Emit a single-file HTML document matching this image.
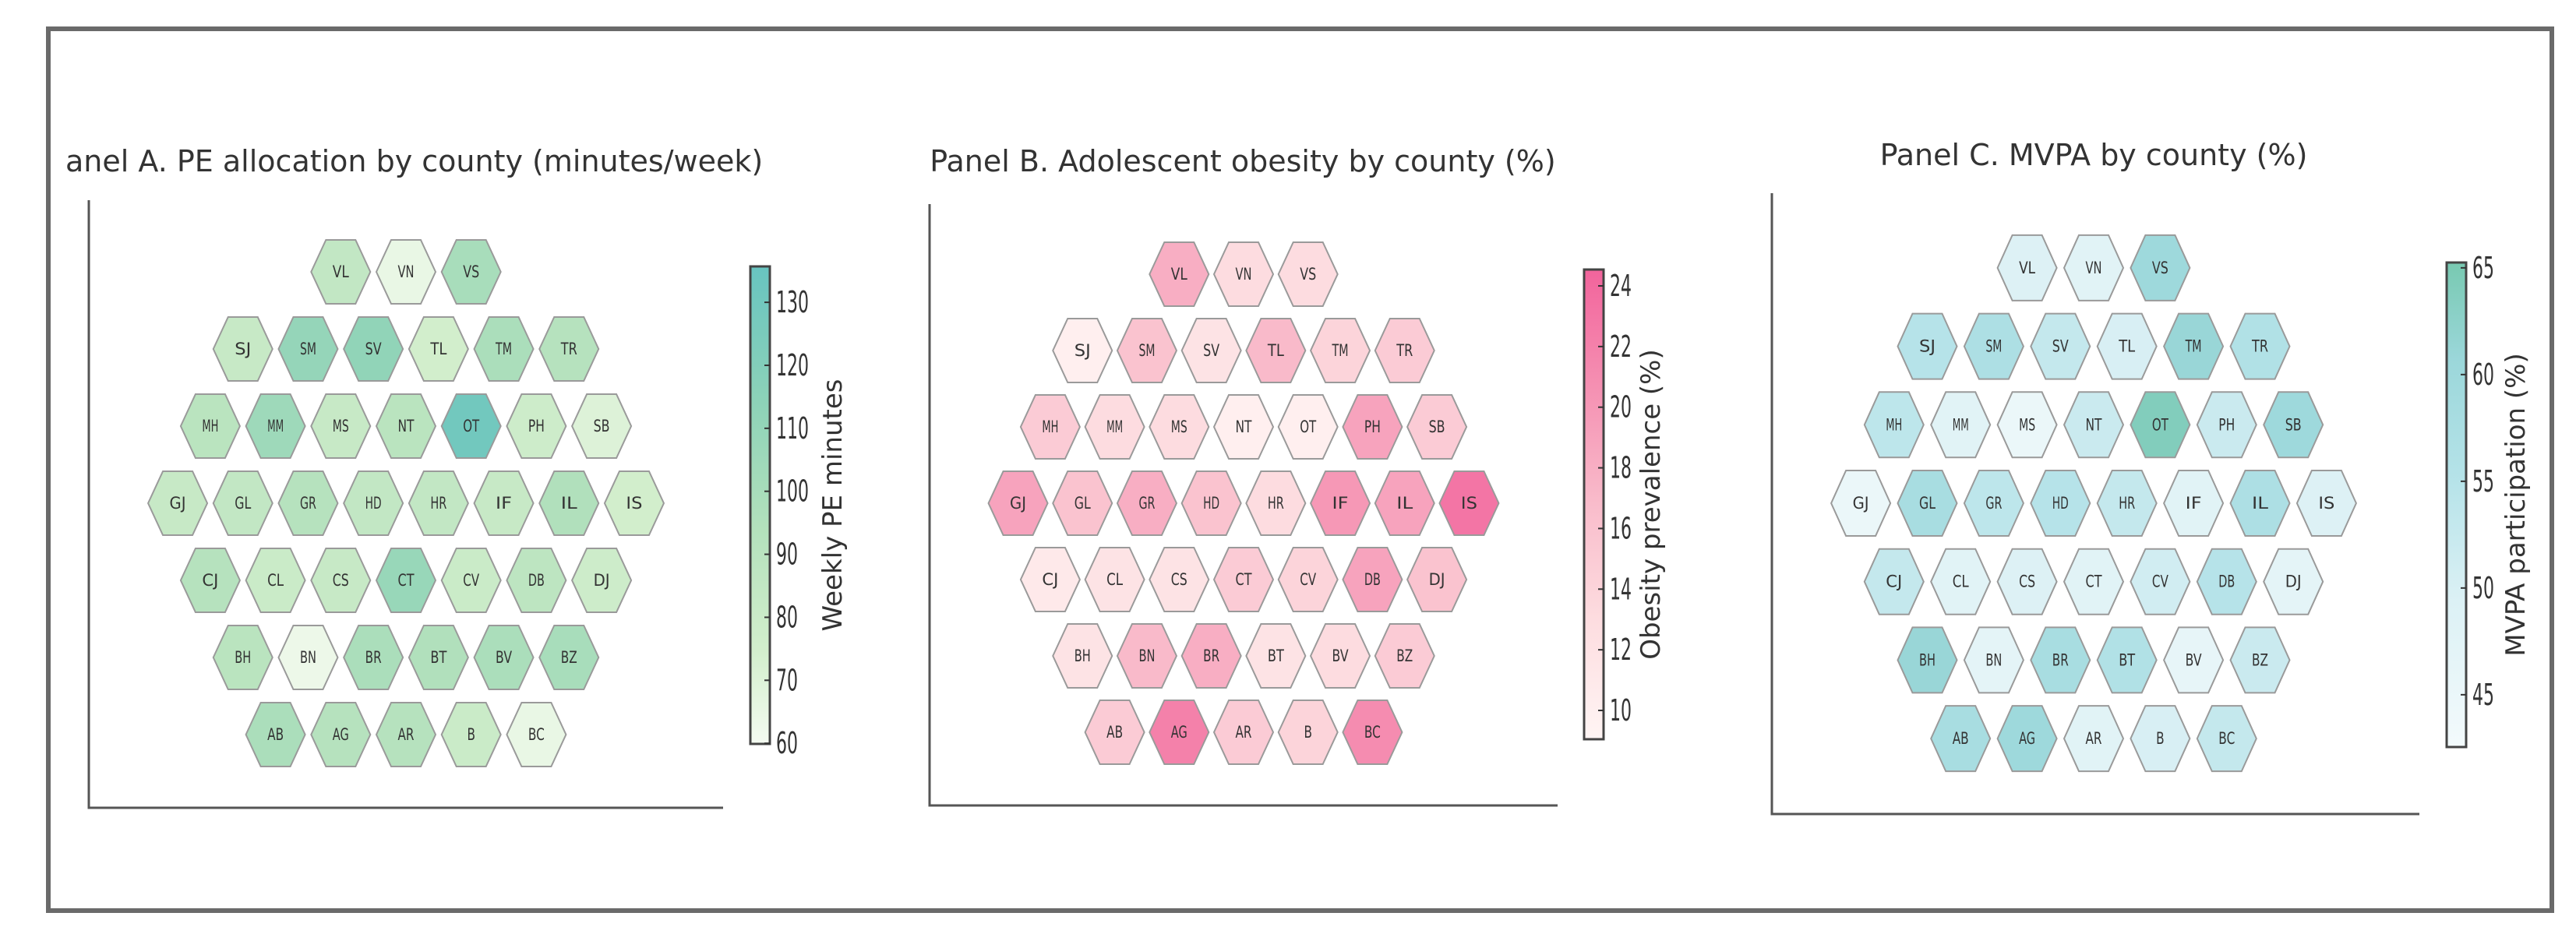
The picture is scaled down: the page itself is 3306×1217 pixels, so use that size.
<!DOCTYPE html>
<html><head><meta charset="utf-8"><style>
html,body{margin:0;padding:0;background:#fff;}
svg{display:block;}
text{font-family:"DejaVu Sans","Liberation Sans",sans-serif;}
</style></head><body>
<svg id="fig" width="3306" height="1217" viewBox="0 0 3306 1217" xmlns="http://www.w3.org/2000/svg">
<rect x="0" y="0" width="3306" height="1217" fill="#fff"/>
<defs><clipPath id="clipA"><rect x="86" y="150" width="960" height="100"/></clipPath></defs>
<g id="panels"></g>
<rect x="62" y="37" width="3213" height="1132" fill="none" stroke="#6a6a6a" stroke-width="6"/>
</svg>
<script>
const codes = [["VL","VN","VS"],["SJ","SM","SV","TL","TM","TR"],["MH","MM","MS","NT","OT","PH","SB"],["GJ","GL","GR","HD","HR","IF","IL","IS"],["CJ","CL","CS","CT","CV","DB","DJ"],["BH","BN","BR","BT","BV","BZ"],["AB","AG","AR","B","BC"]];
const peValues = [[85,65,100],[82,110,112,75,98,92],[90,105,82,90,130,78,70],[82,85,92,85,85,82,95,75],[92,80,82,108,80,88,78],[90,63,98,95,98,100],[98,92,92,80,65]];
const obesityValues = [[18,13,13],[10,16,12,17,14,15],[15,13,13,10,10,19,15],[19,16,18,16,13,20,19,23],[11,12,12,15,14,19,16],[12,17,18,12,13,15],[15,22,15,14,21]];
const mvpaValues = [[49,48,60],[55,57,53,50,61,56],[54,48,45,52,64,52,60],[45,58,54,55,53,48,57,49],[53,48,49,48,51,55,47],[61,47,58,56,46,52],[58,60,48,50,53]];
const peTicks = [60,70,80,90,100,110,120,130];
const obesityTicks = [10,12,14,16,18,20,22,24];
const mvpaTicks = [45,50,55,60,65];

const NS="http://www.w3.org/2000/svg";
const root=document.getElementById('panels');
function mk(tag,attrs,parent){const e=document.createElementNS(NS,tag);for(const k in attrs)e.setAttribute(k,attrs[k]);(parent||root).appendChild(e);return e;}
function hex2rgb(h){return [1,3,5].map(i=>parseInt(h.substr(i,2),16));}
function colorAt(stops,t){t=Math.max(0,Math.min(1,t));for(let i=0;i<stops.length-1;i++){const [a,ca]=stops[i],[b,cb]=stops[i+1];if(t<=b){const u=(t-a)/(b-a);const x=hex2rgb(ca),y=hex2rgb(cb);return 'rgb('+x.map((v,j)=>Math.round(v+(y[j]-v)*u)).join(',')+')';}}return stops[stops.length-1][1];}

const panels=[
 {key:'a',title:'Panel A. PE allocation by county (minutes/week)',tx:521,ty:220,fs:38,clip:'url(#clipA)',
  spX:114,spTop:257,spBot:1037,spR:928,cx:521,cy:646,dx:83.7,dy:99,hw:76,hh:82,
  vals:peValues,vmin:59.9,vmax:135.7,ticks:peTicks,
  stops:[[0,'#f4fbf1'],[0.2,'#d2eecc'],[0.45,'#b3e1bc'],[0.7,'#8fd3b8'],[1,'#68c4c0']],
  cbX:963,cbW:25,cbTop:342,cbBot:955,label:'Weekly PE minutes',lx:1080},
 {key:'b',title:'Panel B. Adolescent obesity by county (%)',tx:1595,ty:220,fs:38,
  spX:1193,spTop:262,spBot:1034,spR:1999,cx:1596,cy:646,dx:82.7,dy:98,hw:76,hh:82,
  vals:obesityValues,vmin:9.05,vmax:24.54,ticks:obesityTicks,
  stops:[[0,'#fff5f4'],[0.25,'#fddde0'],[0.5,'#f9bccb'],[0.75,'#f590b2'],[1,'#f2649c']],
  cbX:2033,cbW:25,cbTop:346,cbBot:949,label:'Obesity prevalence (%)',lx:2130},
 {key:'c',title:'Panel C. MVPA by county (%)',tx:2687,ty:212,fs:38,
  spX:2274,spTop:248,spBot:1045,spR:3105,cx:2687,cy:646,dx:85.4,dy:100.7,hw:76,hh:84,
  vals:mvpaValues,vmin:42.55,vmax:65.25,ticks:mvpaTicks,
  stops:[[0,'#f3fafc'],[0.3,'#dcf1f5'],[0.55,'#b6e3e9'],[0.8,'#9bd7da'],[1,'#78c9b1']],
  cbX:3140,cbW:25,cbTop:327,cbBot:792+0*0,label:'MVPA participation (%)',lx:3240}
];
panels[2].cbBot=792;
panels[2].cbTop=327;

panels.forEach(p=>{
  const g=mk('g',{});
  
  
  const t=mk('text',{x:p.tx,y:p.ty,'text-anchor':'middle','font-size':p.fs,fill:'#333'},g);
  if(p.clip)t.setAttribute('clip-path',p.clip);
  t.textContent=p.title;
  
  
  const sp=mk('path',{d:`M${p.spX},${p.spTop}V${p.spBot}H${p.spR}`,fill:'none',stroke:'#555','stroke-width':3},g);
  
  
  const n=codes.length, mid=(n-1)/2;
  codes.forEach((row,r)=>{
    const y=p.cy+(r-mid)*p.dy;
    row.forEach((c,i)=>{
      const x=p.cx+(i-(row.length-1)/2)*p.dx;
      const v=p.vals[r][i];
      const col=colorAt(p.stops,(v-p.vmin)/(p.vmax-p.vmin));
      const w=p.hw/2,h=p.hh/2,e=p.hw*0.25;
      const hg=mk('g',{},g);
      
      
      mk('polygon',{points:`${x-w},${y} ${x-e},${y-h} ${x+e},${y-h} ${x+w},${y} ${x+e},${y+h} ${x-e},${y+h}`,fill:col,stroke:'#9a9a9a','stroke-width':2},hg);
      const lt=mk('text',{x:x,y:y+7,'text-anchor':'middle','font-size':21,fill:'#333',textLength:c.length*10.5,lengthAdjust:'spacingAndGlyphs'},hg);
      lt.textContent=c;
    });
  });
  if(p.key==='c'){p.cbTop=337;p.cbBot=959;}
  const gid='grad'+p.key;
  const defs=mk('defs',{},g);
  const lg=mk('linearGradient',{id:gid,x1:0,y1:1,x2:0,y2:0},defs);
  p.stops.forEach(s=>mk('stop',{offset:s[0],'stop-color':s[1]},lg));
  const cb=mk('rect',{x:p.cbX,y:p.cbTop,width:p.cbW,height:p.cbBot-p.cbTop,fill:`url(#${gid})`,stroke:'#444','stroke-width':3},g);
  
  
  const yv=v=>p.cbBot-(v-p.vmin)/(p.vmax-p.vmin)*(p.cbBot-p.cbTop);
  p.ticks.forEach(tv=>{
    const yy=yv(tv);
    mk('line',{x1:p.cbX+p.cbW-7,x2:p.cbX+p.cbW,y1:yy,y2:yy,stroke:'#333','stroke-width':2},g);
    const tl=mk('text',{x:p.cbX+p.cbW+8,y:yy+13,'font-size':38,fill:'#333',textLength:String(tv).length*14,lengthAdjust:'spacingAndGlyphs'},g);
    tl.textContent=tv;
    
    
  });
  const ly=(p.cbTop+p.cbBot)/2;
  const lab=mk('text',{x:p.lx,y:ly,'text-anchor':'middle','font-size':34,fill:'#333',transform:`rotate(-90 ${p.lx} ${ly})`},g);
  lab.textContent=p.label;
  
  
});
</script>
</body></html>
